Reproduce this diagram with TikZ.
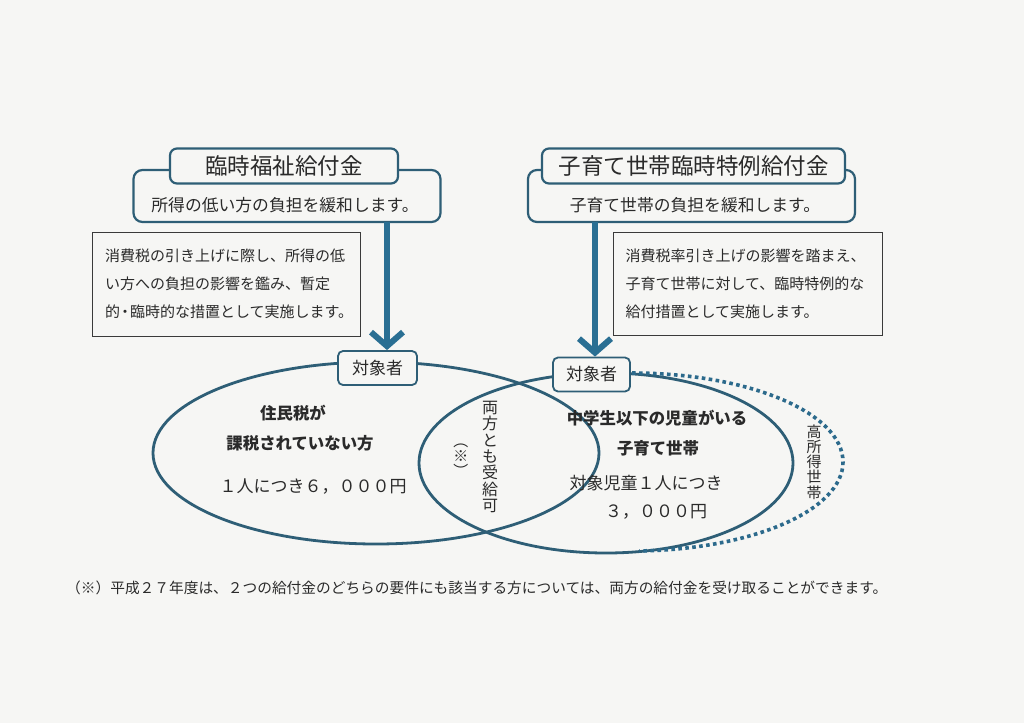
\documentclass[tikz,border=0pt]{standalone}
\usepackage{fontspec}
\setmainfont{Noto Sans CJK JP}
\usetikzlibrary{arrows.meta}
\definecolor{bg}{HTML}{F6F6F4}
\definecolor{frame}{HTML}{2E5E76}
\definecolor{arr}{HTML}{2A6F93}
\definecolor{ink}{HTML}{2A2A2A}
\definecolor{dotc}{HTML}{2C6A8C}
\definecolor{thin}{HTML}{3A3A3A}
\begin{document}
\begin{tikzpicture}[x=1pt,y=-1pt,
  titlebox/.style={draw=frame, line width=2.2pt, rounded corners=7pt, fill=bg, inner sep=0pt, text=ink,
     font=\fontsize{22.5}{24}\selectfont},
  outerbox/.style={draw=frame, line width=2.2pt, rounded corners=9pt, fill=bg, inner sep=0pt},
  subtext/.style={text=ink, inner sep=0pt, font=\fontsize{16.8}{18}\selectfont},
  descbox/.style={draw=thin, line width=1pt, fill=bg, inner sep=0pt, align=left, text=ink,
     font=\fontsize{15}{28}\selectfont},
  targetbox/.style={draw=frame, line width=1.8pt, rounded corners=5pt, fill=bg, inner sep=0pt, text=ink,
     font=\fontsize{17}{18}\selectfont, minimum width=78pt, minimum height=34pt},
  bigarrow/.style={draw=arr, line width=6pt, -{Straight Barb[length=14pt,width=32pt]}},
  venn/.style={draw=frame, line width=2.8pt},
  dotline/.style={draw=dotc, line width=3.6pt, dash pattern=on 3.6pt off 3.4pt},
  boldtxt/.style={text=ink, inner sep=0pt, font=\fontsize{16.4}{18}\selectfont\bfseries},
  normtxt/.style={text=ink, inner sep=0pt, font=\fontsize{17}{18}\selectfont},
  vert/.style={text=ink, inner sep=0pt, align=center}
]
\fill[bg] (0,0) rectangle (1024,723);
\useasboundingbox (0,0) rectangle (1024,723);

% header boxes
\node[outerbox, minimum width=307pt, minimum height=52pt] (lout) at (287,196) {};
\node[titlebox, minimum width=228pt, minimum height=35pt] (ltitle) at (284,166) {臨時福祉給付金};
\node[subtext] (lsub) at (285,205) {所得の低い方の負担を緩和します。};

\node[outerbox, minimum width=327pt, minimum height=52pt] (rout) at (691.5,196) {};
\node[titlebox, minimum width=303pt, minimum height=35pt] (rtitle) at (693.5,166) {子育て世帯臨時特例給付金};
\node[subtext] (rsub) at (695,205) {子育て世帯の負担を緩和します。};

% description boxes
\node[descbox, minimum width=268pt, minimum height=104pt, text width=242pt] (ldesc) at (226,284)
  {消費税の引き上げに際し、所得の低\\い方への負担の影響を鑑み、暫定\\的\kern-2.5pt・\kern-2.5pt 臨時的な措置として実施します。};
\node[descbox, minimum width=269pt, minimum height=103pt, text width=244pt] (rdesc) at (747.5,283.5)
  {消費税率引き上げの影響を踏まえ、\\子育て世帯に対して、臨時特例的な\\給付措置として実施します。};

% venn ellipses
\draw[venn] (376,453) ellipse [x radius=223pt, y radius=91pt];
\draw[venn] (606,463) ellipse [x radius=187pt, y radius=90pt];
\coordinate (dstart) at (632,373);
\draw[dotline] (dstart) arc [start angle=90, end angle=-88, x radius=211pt, y radius=89pt];

% target labels
\node[targetbox, minimum width=79pt] (ltarget) at (377.5,368) {対象者};
\node[targetbox, minimum width=77pt] (rtarget) at (591.5,374.5) {対象者};

% arrows
\coordinate (la) at (387,222);
\coordinate (ra) at (595,222);
\draw[bigarrow] (la) -- (la |- ltarget.north);
\draw[bigarrow] (ra) -- (ra |- rtarget.north);

% left ellipse text
\node[boldtxt] (l1) at (293,413) {住民税が};
\node[boldtxt] (l2) at (300,443) {課税されていない方};
\node[normtxt] (l3) at (313,487) {１人につき６，０００円};

% right ellipse text
\node[boldtxt] (r1) at (657,418) {中学生以下の児童がいる};
\node[boldtxt] (r2) at (658,448) {子育て世帯};
\node[normtxt] (r3) at (646,483) {対象児童１人につき};
\node[normtxt] (r4) at (656,512) {３，０００円};

% vertical texts
\node[vert, font=\fontsize{16}{16.3}\selectfont] (both) at (490,457) {両\\方\\と\\も\\受\\給\\可};
\node[text=ink, inner sep=0pt, rotate=-90, font=\fontsize{15}{16}\selectfont] (note) at (461,456) {（※）};
\node[vert, font=\fontsize{15}{15.2}\selectfont] (high) at (814,462) {高\\所\\得\\世\\帯};

% footnote
\node[text=ink, inner sep=0pt, anchor=west, font=\fontsize{14.7}{16}\selectfont] (foot) at (66,588)
  {（※）平成２７年度は、２つの給付金のどちらの要件にも該当する方については、両方の給付金を受け取ることができます。};
\end{tikzpicture}
\end{document}
